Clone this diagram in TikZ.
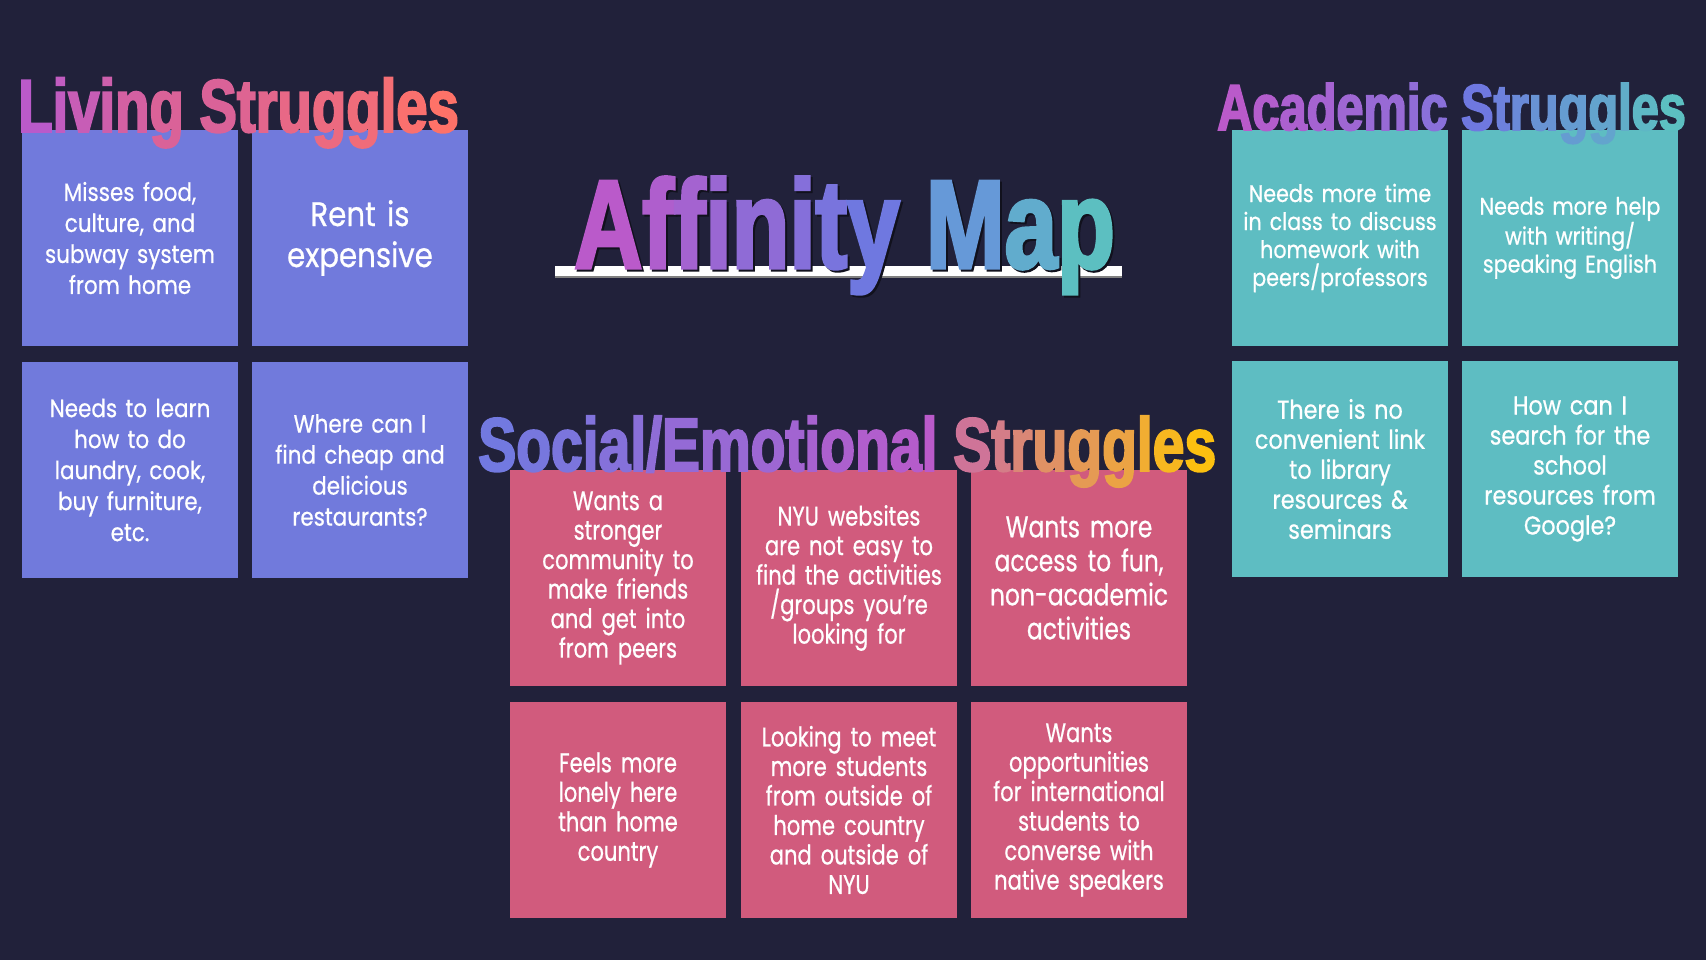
\documentclass[tikz,border=0pt]{standalone}
\usepackage{fontspec}
\setmainfont{Poppins}
\newfontfamily\notefont[FakeStretch=0.86,FakeBold=0.6]{Poppins}
\newfontfamily\condfont[FakeStretch=0.78,FakeBold=0.6]{Poppins}
\newfontfamily\headfont[FakeStretch=0.75,FakeBold=2.5]{Liberation Sans}

\definecolor{bgnavy}{HTML}{21213A}
\definecolor{livblue}{HTML}{717ADC}
\definecolor{socpink}{HTML}{D15B7D}
\definecolor{acateal}{HTML}{5EBDC2}
\definecolor{gpurple}{HTML}{BA5ACA}
\definecolor{gviolet}{HTML}{8A70DA}
\definecolor{gblue}{HTML}{6F78E0}
\definecolor{gsky}{HTML}{6699D8}
\definecolor{gteal}{HTML}{5CBFC1}
\definecolor{gpink}{HTML}{DA6298}
\definecolor{gcoral}{HTML}{FE7268}
\definecolor{gsocblue}{HTML}{7279E0}
\definecolor{gmauve}{HTML}{CF7498}
\definecolor{gyellow}{HTML}{FCC010}

% one colour per letter, mixed from #1 to #2
\ExplSyntaxOn
\NewDocumentCommand\gradseg{mmm}{
  \int_set:Nn \l_tmpa_int { \tl_count:n {#3} }
  \int_zero:N \l_tmpb_int
  \tl_map_inline:nn {#3} {
    \int_compare:nNnTF {\l_tmpa_int} > {1}
      { \fp_set:Nn \l_tmpa_fp { round(100 - 100*\l_tmpb_int/(\l_tmpa_int-1)) } }
      { \fp_set:Nn \l_tmpa_fp {100} }
    \textcolor{#1!\fp_use:N \l_tmpa_fp!#2}{##1}
    \int_incr:N \l_tmpb_int
  }
}
\ExplSyntaxOff

\tikzset{
  note/.style={minimum width=216, minimum height=216, inner sep=0pt, text width=212, align=center, text=white},
  livnote/.style={note, fill=livblue, font=\notefont\fontsize{25}{31}\selectfont},
  socnote/.style={note, fill=socpink, font=\condfont\fontsize{27}{29.5}\selectfont},
  acanote/.style={note, fill=acateal, font=\notefont\fontsize{24}{28}\selectfont},
  headtitle/.style={inner sep=0pt, anchor=base west}
}

\begin{document}
\begin{tikzpicture}[x=1pt, y=-1pt]
\fill[bgnavy] (0,0) rectangle (1706,960);
\useasboundingbox (0,0) rectangle (1706,960);
% Living struggles
\node[livnote] (liv1) at (130,238) {Misses food,\\ culture, and\\ subway system\\ from home};
\node[livnote, font=\notefont\fontsize{34}{41}\selectfont] (liv2) at (360,238) {Rent is\\ expensive};
\node[livnote] (liv3) at (130,470) {Needs to learn\\ how to do\\ laundry, cook,\\ buy furniture,\\ etc.};
\node[livnote] (liv4) at (360,470) {Where can I\\ find cheap and\\ delicious\\ restaurants?};
% Social/emotional struggles
\node[socnote] (soc1) at (618,578) {Wants a\\ stronger\\ community to\\ make friends\\ and get into\\ from peers};
\node[socnote] (soc2) at (849,578) {NYU websites\\ are not easy to\\ find the activities\\ /groups you’re\\ looking for};
\node[socnote, font=\condfont\fontsize{30}{34}\selectfont] (soc3) at (1079,578) {Wants more\\ access to fun,\\ non-academic\\ activities};
\node[socnote] (soc4) at (618,810) {Feels more\\ lonely here\\ than home\\ country};
\node[socnote] (soc5) at (849,810) {Looking to meet\\ more students\\ from outside of\\ home country\\ and outside of\\ NYU};
\node[socnote] (soc6) at (1079,810) {Wants\\ opportunities\\ for international\\ students to\\ converse with\\ native speakers};
% Academic struggles
\node[acanote] (aca1) at (1340,238) {Needs more time\\ in class to discuss\\ homework with\\ peers/professors};
\node[acanote] (aca2) at (1570,238) {Needs more help\\ with writing/\\ speaking English};
\node[acanote, font=\notefont\fontsize{26}{30}\selectfont] (aca3) at (1340,469) {There is no\\ convenient link\\ to library\\ resources \&\\ seminars};
\node[acanote, font=\notefont\fontsize{26}{30}\selectfont] (aca4) at (1570,469) {How can I\\ search for the\\ school\\ resources from\\ Google?};
% headings
\node[headtitle, font=\headfont\bfseries\fontsize{75}{75}\selectfont] (livtitle) at (18,132)
  {\gradseg{gpurple}{gpink}{Living} \gradseg{gpink}{gcoral}{Struggles}};
\node[headtitle, font=\headfont\bfseries\fontsize{76}{76}\selectfont] (soctitle) at (478,471)
  {\gradseg{gsocblue}{gpurple}{Social/Emotional} \gradseg{gmauve}{gyellow}{Struggles}};
\node[headtitle, font=\headfont\bfseries\fontsize{65}{65}\selectfont] (acatitle) at (1217,130)
  {\gradseg{gpurple}{gviolet}{Academic} \gradseg{gblue}{gteal}{Struggles}};
% Affinity map title
\fill[white] (555,266) rectangle (1122,276);
\draw[gray, line width=1.5] (555,277) -- (1122,277);
\node[headtitle, font=\headfont\bfseries\fontsize{126}{126}\selectfont, text=black!50!bgnavy] (affshadow) at (576,270) {Affinity Map};
\node[headtitle, font=\headfont\bfseries\fontsize{126}{126}\selectfont] (afftitle) at (574,268)
  {\gradseg{gpurple}{gblue}{Affinity} \gradseg{gsky}{gteal}{Map}};
\end{tikzpicture}
\end{document}
